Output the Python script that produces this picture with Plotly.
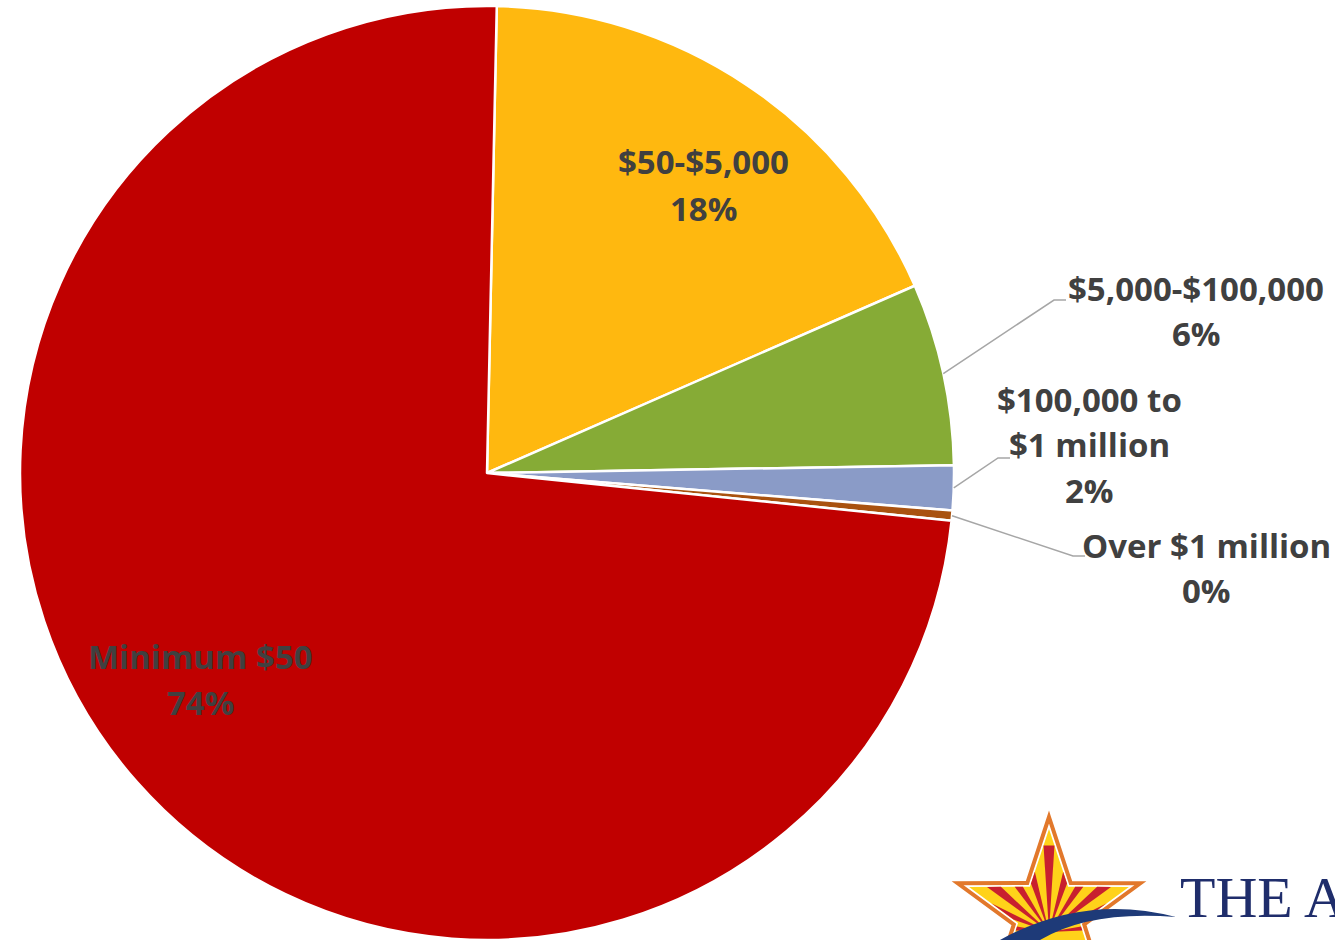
import math
import plotly.graph_objects as go

# ---------------- data ----------------
categories = ["$50-$5,000", "$5,000-$100,000", "$100,000 to $1 million", "Over $1 million", "Minimum $50"]
shares = [18.1, 6.3, 1.55, 0.35, 73.7]
label_lines = [["$50-$5,000"], ["$5,000-$100,000"], ["$100,000 to", "$1 million"], ["Over $1 million"], ["Minimum $50"]]
colors = ["#FFB80F", "#86AB36", "#8A9BC7", "#A9520F", "#C00000"]

# ---------------- layout constants ----------------
W, H = 1335, 940
CX, R = 487, 467
CY = 473
ROT = 1.2
TEXT_COLOR = "#404040"
FONT = "Open Sans"
FSIZE = 33

# label placement (pixel centre x, pixel y for each text line incl. percentage)
label_layout = [
    (703, [162, 208]),
    (1196, [288, 333]),
    (1089, [400, 445, 490]),
    (1206, [545, 590]),
    (200, [656, 702]),
]
# leader-line elbows for outside labels (index -> [elbow, end])
leaders = {
    1: [(1054, 300), (1066, 300)],
    2: [(998, 458), (1010, 458)],
    3: [(1073, 556), (1085, 556)],
}


def px(x):
    return x / W


def py(y):
    return 1 - y / H


def P(x, y):
    return f"{px(x):.5f},{py(y):.5f}"


fig = go.Figure()
fig.add_trace(go.Pie(
    labels=categories,
    values=shares,
    sort=False,
    direction="clockwise",
    rotation=ROT,
    marker=dict(colors=colors, line=dict(color="white", width=2.5)),
    textinfo="none",
    hoverinfo="label+percent",
    showlegend=False,
    domain=dict(x=[(CX - R) / W, (CX + R) / W], y=[0, 2 * R / H]),
))

total = sum(shares)
annotations = []
shapes = []

# slice labels
cum = 0.0
for i, v in enumerate(shares):
    pct = f"{round(100 * v / total)}%"
    lines = label_lines[i] + [pct]
    xc, ys = label_layout[i]
    for text, yy in zip(lines, ys):
        annotations.append(dict(
            x=px(xc), y=py(yy), xref="paper", yref="paper",
            text=text, showarrow=False, xanchor="center", yanchor="middle",
            font=dict(family=FONT, size=FSIZE, color=TEXT_COLOR, weight="bold"),
        ))
    if i in leaders:
        mid = math.radians(ROT + 360 * (cum + v / 2) / total)
        sx = CX + R * math.sin(mid)
        sy = CY - R * math.cos(mid)
        (ex, ey), (hx, hy) = leaders[i]
        shapes.append(dict(
            type="path", xref="paper", yref="paper",
            path=f"M {P(sx, sy)} L {P(ex, ey)} L {P(hx, hy)}",
            line=dict(color="#A6A6A6", width=1.5),
        ))
    cum += v

# ---------------- logo (decorative, bottom right) ----------------
SCX, SCY = 1049, 913


def star_pts(Ro, Ri):
    pts = []
    for k in range(10):
        a = math.radians(k * 36)
        rad = Ro if k % 2 == 0 else Ri
        pts.append((SCX + rad * math.sin(a), SCY - rad * math.cos(a)))
    return pts


def poly_path(pts):
    return "M " + " L ".join(P(x, y) for x, y in pts) + " Z"


outer = star_pts(96, 37)
inner = star_pts(84, 32.5)
shapes.append(dict(type="path", xref="paper", yref="paper", path=poly_path(outer),
                   fillcolor="white", line=dict(color="#E2782B", width=4)))
shapes.append(dict(type="path", xref="paper", yref="paper", path=poly_path(inner),
                   fillcolor="#FFD21A", line=dict(width=0)))


def ray_hit(ox, oy, ang, poly):
    dx, dy = math.sin(ang), -math.cos(ang)
    best = None
    n = len(poly)
    for k in range(n):
        x1, y1 = poly[k]
        x2, y2 = poly[(k + 1) % n]
        ex, ey = x2 - x1, y2 - y1
        den = dx * ey - dy * ex
        if abs(den) < 1e-9:
            continue
        t = ((x1 - ox) * ey - (y1 - oy) * ex) / den
        u = ((x1 - ox) * dy - (y1 - oy) * dx) / den
        if t > 0 and 0 <= u <= 1:
            if best is None or t < best:
                best = t
    return ox + best * dx, oy + best * dy


OX, OY = 1049, 932
for k in range(11):
    a = math.radians(-84 + k * 16.8)
    hw = math.radians(3.6)
    p1 = ray_hit(OX, OY, a - hw, inner)
    p2 = ray_hit(OX, OY, a + hw, inner)
    shapes.append(dict(type="path", xref="paper", yref="paper",
                       path=poly_path([(OX, OY), p1, p2]),
                       fillcolor="#C8202F", line=dict(width=0)))

shapes.append(dict(type="path", xref="paper", yref="paper",
                   path=f"M {P(1000, 940)} Q {P(1085, 893)} {P(1176, 917)} Q {P(1090, 910)} {P(1040, 940)} Z",
                   fillcolor="#1E3A78", line=dict(width=0)))

annotations.append(dict(x=px(1178), y=py(897), xref="paper", yref="paper", text="THE A",
                        showarrow=False, xanchor="left", yanchor="middle",
                        font=dict(family="Liberation Serif", size=58, color="#1F2D6B")))
annotations.append(dict(x=px(1205), y=py(931), xref="paper", yref="paper", text="F O R   E",
                        showarrow=False, xanchor="left", yanchor="top",
                        font=dict(family="Liberation Serif", size=30, color="#1F2D6B")))

fig.update_layout(
    width=W, height=H,
    margin=dict(l=0, r=0, t=0, b=0),
    paper_bgcolor="white", plot_bgcolor="white",
    annotations=annotations, shapes=shapes,
    showlegend=False,
)

fig.write_html(
    "out.html",
    config={"displayModeBar": False},
    post_script="document.body.style.margin='0';document.body.style.overflow='hidden';",
)
